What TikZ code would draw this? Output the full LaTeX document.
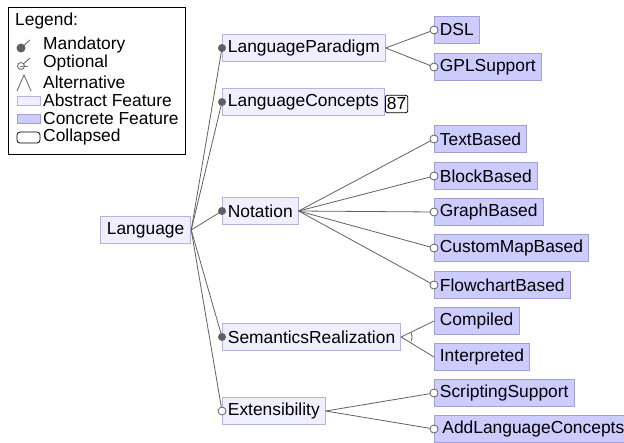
\documentclass[tikz,border=0pt]{standalone}
\usepackage{fontspec}
\setmainfont{Liberation Sans}
\definecolor{absfill}{HTML}{EFEFFF}
\definecolor{absline}{HTML}{B4B4DC}
\definecolor{confill}{HTML}{CCCCFF}
\definecolor{conline}{HTML}{A0A0D4}
\definecolor{edgegray}{HTML}{606060}

\begin{document}
\begin{tikzpicture}[x=1pt,y=-1pt]
        \tikzstyle{every node}=[font=\fontsize{17.4}{20}\selectfont]
        \tikzstyle{feat}=[rectangle, anchor=west, minimum height=27pt, inner xsep=5.5pt, inner ysep=0pt]
        \tikzstyle{abstract}=[feat, draw=absline, fill=absfill, line width=0.8pt]
        \tikzstyle{concrete}=[feat, draw=conline, fill=confill, line width=0.8pt]
        \tikzstyle{edge}=[draw=edgegray, line width=0.8pt]
        \tikzstyle{mand}=[fill=edgegray]
        \tikzstyle{opt}=[draw=edgegray, fill=white, line width=0.8pt]
        \tikzstyle{legtext}=[anchor=west, inner sep=0pt]
        \useasboundingbox (0,0) rectangle (624,442);

        \draw[line width=0.8pt] (8,7) rectangle (185,154);
        \node[legtext] (lgTitle) at (15,21) {Legend:};
        \node[legtext] (lgMand) at (43,45) {Mandatory};
        \node[legtext] (lgOpt) at (43,63) {Optional};
        \node[legtext] (lgAlt) at (43,82) {Alternative};
        \node[legtext] (lgAbs) at (43,100) {Abstract Feature};
        \node[legtext] (lgCon) at (43,119) {Concrete Feature};
        \node[legtext] (lgCol) at (43,137) {Collapsed};
        \draw[edge] (21,48) -- (30,40);
        \fill[mand] (21,48) circle (4.5);
        \draw[edge] (21,66) -- (30,58);
        \draw[opt] (21,66) circle (3.5);
        \draw[edge] (17,91) -- (24,75) -- (31,91);
        \draw[edge] (24,75) ++(-115:9) arc[start angle=-115, end angle=-65, radius=9];
        \draw[absline, fill=absfill, line width=0.8pt] (17,96) rectangle (40,105);
        \draw[conline, fill=confill, line width=0.8pt] (17,114) rectangle (40,123);
        \draw[line width=0.8pt, rounded corners=3pt] (17,132) rectangle (40,143);

        \node[abstract, inner xsep=6.5pt] (lang) at (100,230) {Language};
        \node[abstract] (paradigm) at (222,48) {LanguageParadigm};
        \node[abstract] (concepts) at (222,102) {LanguageConcepts};
        \node[draw, rounded corners=2pt, fill=white, inner xsep=1.5pt, inner ysep=2.5pt, anchor=west, line width=0.8pt] (conceptsCount) at (385,104) {87};
        \node[abstract] (notation) at (222,211) {Notation};
        \node[abstract] (semantics) at (222,337) {SemanticsRealization};
        \node[abstract] (extens) at (222,411) {Extensibility};

        \node[concrete] (dsl) at (434,30) {DSL};
        \node[concrete] (gpl) at (434,67) {GPLSupport};
        \node[concrete] (text) at (434,139) {TextBased};
        \node[concrete] (block) at (434,176) {BlockBased};
        \node[concrete] (graph) at (434,212) {GraphBased};
        \node[concrete] (custom) at (434,248) {CustomMapBased};
        \node[concrete] (flow) at (434,285) {FlowchartBased};
        \node[concrete] (compiled) at (434,321) {Compiled};
        \node[concrete] (interp) at (434,357) {Interpreted};
        \node[concrete] (script) at (434,393) {ScriptingSupport};
        \node[concrete, inner xsep=8pt] (addlc) at (434,429) {AddLanguageConcepts};

        \foreach \c in {paradigm,concepts,notation,semantics,extens}
            \draw[edge] (lang.east) -- (\c.west);
        \foreach \c in {dsl,gpl}
            \draw[edge] (paradigm.east) -- (\c.west);
        \foreach \c in {text,block,graph,custom,flow}
            \draw[edge] (notation.east) -- (\c.west);
        \foreach \c in {compiled,interp}
            \draw[edge] (semantics.east) -- (\c.west);
        \foreach \c in {script,addlc}
            \draw[edge] (extens.east) -- (\c.west);
        \draw[edge] (semantics.east) ++(-24:11) arc[start angle=-24, end angle=24, radius=11];

        \foreach \c in {paradigm,concepts,notation,semantics}
            \fill[mand] (\c.west) circle (4);
        \foreach \c in {extens,dsl,gpl,text,block,graph,custom,flow,script,addlc}
            \draw[opt] (\c.west) circle (4);
\end{tikzpicture}
\end{document}
